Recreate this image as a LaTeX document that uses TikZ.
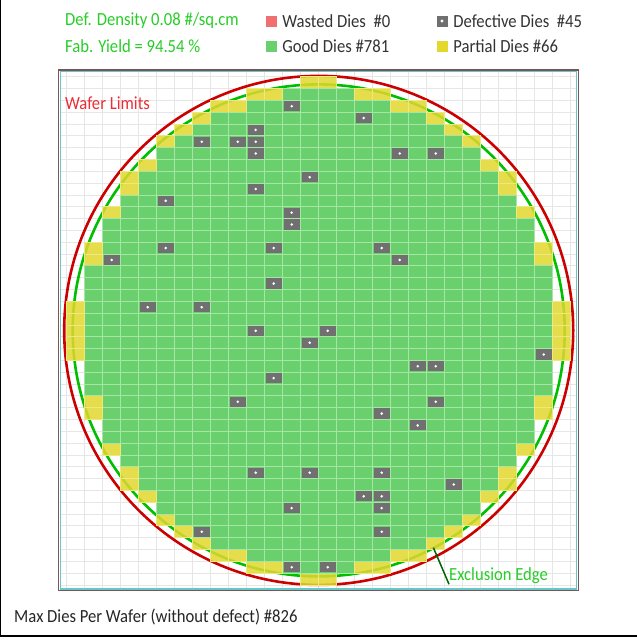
\documentclass[tikz,border=0pt]{standalone}
\usepackage{fontspec}
\setmainfont{Carlito}[FakeStretch=0.9]
\usetikzlibrary{positioning,calc}

\definecolor{goodgreen}{RGB}{106,208,110}
\definecolor{goodline}{RGB}{165,230,165}
\definecolor{partyellow}{RGB}{226,216,46}
\definecolor{defgray}{RGB}{112,112,112}
\definecolor{wastedred}{RGB}{240,112,112}
\definecolor{waferred}{RGB}{204,0,0}
\definecolor{exclgreen}{RGB}{0,190,0}
\definecolor{infogreen}{RGB}{40,205,40}
\definecolor{limitred}{RGB}{235,45,55}
\definecolor{leadgreen}{RGB}{0,100,0}
\definecolor{gridgray}{RGB}{230,230,230}
\definecolor{frameout}{RGB}{125,85,85}
\definecolor{framein}{RGB}{100,200,200}

\newcommand{\waferdie}[3]{\path[#1] ({66.7+18*#2},{76.7+11.82*#3}) rectangle ++(18,11.82);}

\begin{document}
\begin{tikzpicture}[x=1pt, y=-1pt,
    txt/.style={font=\fontsize{18.5}{21}\selectfont, inner sep=0pt, anchor=west},
    keybox/.style={minimum size=11pt, inner sep=0pt},
    gooddie/.style={fill=goodgreen, draw=goodline, line width=0.8pt},
    partdie/.style={fill=partyellow, fill opacity=0.85, draw=partyellow!60!white, line width=0.8pt},
    bggrid/.style={draw=gridgray, line width=0.8pt}
]
\fill[white] (0,0) rectangle (637,640);
\useasboundingbox (0,0) rectangle (637,640);
\draw[black, line width=1.2pt] (0.6,0) -- (0.6,636) -- (637,636);

\foreach \c in {0,...,28} \draw[bggrid] ({66.7+18*\c},71.5) -- ({66.7+18*\c},589);
\foreach \r in {0,...,43} \draw[bggrid] (60,{76.7+11.82*\r}) -- (577,{76.7+11.82*\r});
\draw[frameout, line width=1.2pt] (58.5,70) rectangle (578.5,590.5);
\draw[framein, line width=1.1pt] (60.2,71.5) rectangle (576.8,589);

\coordinate (ctr) at (318.7,330.4);
\draw[waferred, line width=2.6pt] (ctr) circle (254.5pt);
\draw[exclgreen, line width=2.6pt] (ctr) circle (246pt);

\foreach \r/\g/\k in {0/14/1,1/12/2,2/10/2,3/8/1,4/7/1,5/6/1,6/5/0,7/5/1,8/4/1,9/4/1,10/3/0,
    11/3/1,12/2/0,13/2/0,14/2/1,15/2/1,16/1/0,17/1/0,18/1/0,19/1/1,20/1/1,21/1/1}{
  \pgfmathtruncatemacro{\rb}{42-\r}
  \pgfmathtruncatemacro{\gb}{27-\g}
  \ifnum\g<14
    \foreach \c in {\g,...,\gb}{\waferdie{gooddie}{\c}{\r}\ifnum\r<21 \waferdie{gooddie}{\c}{\rb}\fi}
  \fi
  \ifnum\k>0
    \pgfmathtruncatemacro{\ya}{\g-\k}
    \pgfmathtruncatemacro{\yb}{\g-1}
    \foreach \c in {\ya,...,\yb}{
      \pgfmathtruncatemacro{\cb}{27-\c}
      \waferdie{partdie}{\c}{\r}\waferdie{partdie}{\cb}{\r}
      \ifnum\r<21 \waferdie{partdie}{\c}{\rb}\waferdie{partdie}{\cb}{\rb}\fi}
  \fi
}

\foreach \c/\r in {12/2,16/3,10/4,7/5,9/5,10/5,10/6,18/6,20/6,13/8,10/9,5/10,12/11,12/12,5/14,
    11/14,17/14,2/15,18/15,11/17,4/19,7/19,10/21,14/21,13/22,26/23,19/24,20/24,11/25,9/27,
    20/27,17/28,19/29,10/33,13/33,17/33,21/34,16/35,17/35,12/36,17/36,7/38,17/38,12/41,14/41}{
  \fill[defgray] ({66.7+18*\c+0.8},{76.7+11.82*\r+0.8}) rectangle ++(16.4,10.2);
  \fill[white] ({75.7+18*\c},{82.61+11.82*\r}) circle (1.4pt);
}

\node[txt, text=infogreen] (density) at (65,21) {Def. Density 0.08 \#/sq.cm};
\node[txt, text=infogreen] (yield) at (65,46) {Fab. Yield = 94.54 \%};

\node[keybox, fill=wastedred] (wastedkey) at (271,21) {};
\node[txt, text=black!80, right=5.5pt of wastedkey] (wastedlbl) {Wasted Dies\ \ \#0};
\node[keybox, fill=goodgreen] (goodkey) at (271,46) {};
\node[txt, text=black!80, right=5.5pt of goodkey] (goodlbl) {Good Dies \#781};
\node[keybox, fill=defgray] (defkey) at (442,21) {};
\fill[white] (defkey) circle (1.6pt);
\node[txt, text=black!80, right=5.5pt of defkey] (deflbl) {Defective Dies\ \ \#45};
\node[keybox, fill=partyellow] (partkey) at (442,46) {};
\node[txt, text=black!80, right=5.5pt of partkey] (partlbl) {Partial Dies \#66};

\node[txt, text=limitred] (limitlbl) at (65,103) {Wafer Limits};
\node[txt, text=infogreen] (excllbl) at (449,576) {Exclusion Edge};
\coordinate (exclpt) at ($(ctr)+(114.7,217.3)$);
\draw[leadgreen, line width=1.5pt] (exclpt) -- (excllbl.south west);

\node[txt, text=black!85] (maxlbl) at (14,617) {Max Dies Per Wafer (without defect) \#826};
\end{tikzpicture}
\end{document}
